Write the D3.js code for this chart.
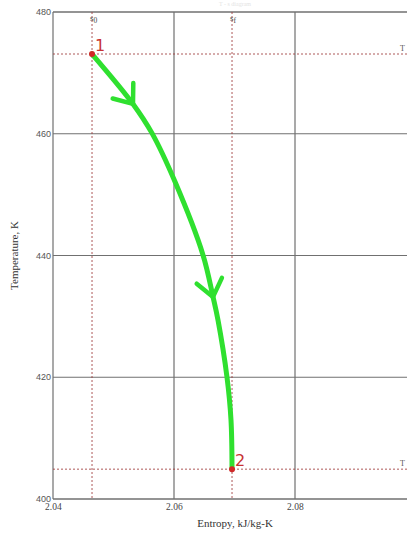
<!DOCTYPE html>
<html>
<head>
<meta charset="utf-8">
<script src="https://cdn.jsdelivr.net/npm/d3@7"></script>
<style>
  html, body { margin: 0; padding: 0; background: #fff; overflow: hidden; }
  svg { display: block; }
</style>
</head>
<body>
<svg id="chart" width="407" height="538"></svg>
<script>
// Expansion process on the T-s plane
const entropyPath = [2.04645, 2.05322, 2.05636, 2.06017, 2.06479, 2.06645, 2.06727, 2.06876, 2.06942, 2.06959];
const tempPath    = [473.1, 464.9, 460.1, 452.1, 440.1, 433.2, 429.4, 420.0, 413.0, 404.9];

// State points 1 and 2
const stateLabels = ["1", "2"];
const stateS = [2.04645, 2.06959];
const stateT = [473.1, 404.9];

// Axis ticks
const xTicks = [2.04, 2.06, 2.08, 2.10];
const xTickLabels = ["2.04", "2.06", "2.08"];
const yTicks = [400, 420, 440, 460, 480];
const yTickLabels = ["400", "420", "440", "460", "480"];

// Indices along the path where direction arrows sit
const arrowAt = [1, 5];

const svg = d3.select("#chart");

const x = d3.scaleLinear().domain([2.04, 2.10]).range([53, 416]);
const y = d3.scaleLinear().domain([400, 480]).range([499, 12]);

const x0 = x(2.04), x1 = x(2.10), y0 = y(400), y1 = y(480);

// Faint title strip at the very top
svg.append("text")
  .attr("x", 235).attr("y", 6)
  .attr("text-anchor", "middle")
  .attr("font-family", "Liberation Serif, serif")
  .attr("font-size", 6)
  .attr("fill", "#e4e4e4")
  .text("T - s diagram");

// Grid
const grid = svg.append("g");
grid.selectAll("line.vx")
  .data(xTicks)
  .join("line")
  .attr("x1", d => x(d)).attr("x2", d => x(d))
  .attr("y1", y1).attr("y2", y0)
  .attr("stroke", "#707070").attr("stroke-width", 1.2);
grid.selectAll("line.hy")
  .data(yTicks)
  .join("line")
  .attr("x1", x0).attr("x2", x1)
  .attr("y1", d => y(d)).attr("y2", d => y(d))
  .attr("stroke", "#707070").attr("stroke-width", d => (d === 400 || d === 480) ? 1.5 : 1.2);

// Y tick labels
svg.append("g").selectAll("text")
  .data(yTicks)
  .join("text")
  .attr("x", x0 - 2)
  .attr("y", d => y(d) + 3)
  .attr("text-anchor", "end")
  .attr("font-family", "Liberation Sans, sans-serif")
  .attr("font-size", 9)
  .attr("fill", "#555")
  .text((d, i) => yTickLabels[i]);

// X tick labels
svg.append("g").selectAll("text")
  .data(xTickLabels)
  .join("text")
  .attr("x", (d, i) => x(xTicks[i]))
  .attr("y", y0 + 11)
  .attr("dx", -8)
  .attr("font-family", "Liberation Serif, serif")
  .attr("font-size", 9.5)
  .attr("fill", "#444")
  .text(d => d);

// Axis titles
svg.append("text")
  .attr("x", 235).attr("y", 527)
  .attr("text-anchor", "middle")
  .attr("font-family", "Liberation Serif, serif")
  .attr("font-size", 11)
  .attr("fill", "#333")
  .text("Entropy, kJ/kg-K");

svg.append("text")
  .attr("transform", `translate(18, ${(y0 + y1) / 2}) rotate(-90)`)
  .attr("text-anchor", "middle")
  .attr("font-family", "Liberation Serif, serif")
  .attr("font-size", 11)
  .attr("fill", "#333")
  .text("Temperature, K");

// Dashed state markers
const ref = svg.append("g")
  .attr("stroke", "#a03c3c")
  .attr("stroke-width", 1)
  .attr("stroke-dasharray", "2,2")
  .attr("opacity", 0.85);
stateS.forEach(s => {
  ref.append("line").attr("x1", x(s)).attr("x2", x(s)).attr("y1", y1).attr("y2", y0);
});
stateT.forEach(t => {
  ref.append("line").attr("x1", x0).attr("x2", x1).attr("y1", y(t)).attr("y2", y(t));
});

// Top markers s0 / sf
const topNames = [["s", "0"], ["s", "f"]];
stateS.forEach((s, i) => {
  const t = svg.append("text")
    .attr("x", x(s) - 2).attr("y", y1 + 9)
    .attr("font-family", "Liberation Serif, serif")
    .attr("font-size", 9)
    .attr("fill", "#444");
  t.append("tspan").text(topNames[i][0]);
  t.append("tspan").attr("dy", 2).attr("font-size", 7.5).text(topNames[i][1]);
});

// Right-edge temperature markers
stateT.forEach(t => {
  svg.append("text")
    .attr("x", 400).attr("y", y(t) - 3)
    .attr("font-family", "Liberation Serif, serif")
    .attr("font-size", 8)
    .attr("fill", "#555")
    .text("T");
});

// Process curve
const pts = entropyPath.map((s, i) => [x(s), y(tempPath[i])]);
svg.append("path")
  .attr("d", d3.line().curve(d3.curveCatmullRom.alpha(0.5))(pts))
  .attr("fill", "none")
  .attr("stroke", "#2fe02f")
  .attr("stroke-width", 5)
  .attr("stroke-linecap", "round");

// Direction chevrons
arrowAt.forEach(i => {
  const [tx, ty] = pts[i];
  const a = pts[i - 1], b = pts[i + 1];
  const ang = Math.atan2(b[1] - a[1], b[0] - a[0]);
  const back = ang + Math.PI;
  const len = 21, spread = 38 * Math.PI / 180;
  const p1 = [tx + len * Math.cos(back - spread), ty + len * Math.sin(back - spread)];
  const p2 = [tx + len * Math.cos(back + spread), ty + len * Math.sin(back + spread)];
  svg.append("path")
    .attr("d", d3.line()([p1, [tx, ty], p2]))
    .attr("fill", "none")
    .attr("stroke", "#2fe02f")
    .attr("stroke-width", 4.5)
    .attr("stroke-linecap", "round")
    .attr("stroke-linejoin", "round");
});

// State points
svg.append("g").selectAll("circle")
  .data(stateS)
  .join("circle")
  .attr("cx", d => x(d))
  .attr("cy", (d, i) => y(stateT[i]))
  .attr("r", 3)
  .attr("fill", "#d02828");

svg.append("g").selectAll("text")
  .data(stateLabels)
  .join("text")
  .attr("x", (d, i) => x(stateS[i]) + 3)
  .attr("y", (d, i) => y(stateT[i]) - 3)
  .attr("font-family", "DejaVu Sans, sans-serif")
  .attr("font-size", 16)
  .attr("fill", "#c83232")
  .text(d => d);
</script>
</body>
</html>
